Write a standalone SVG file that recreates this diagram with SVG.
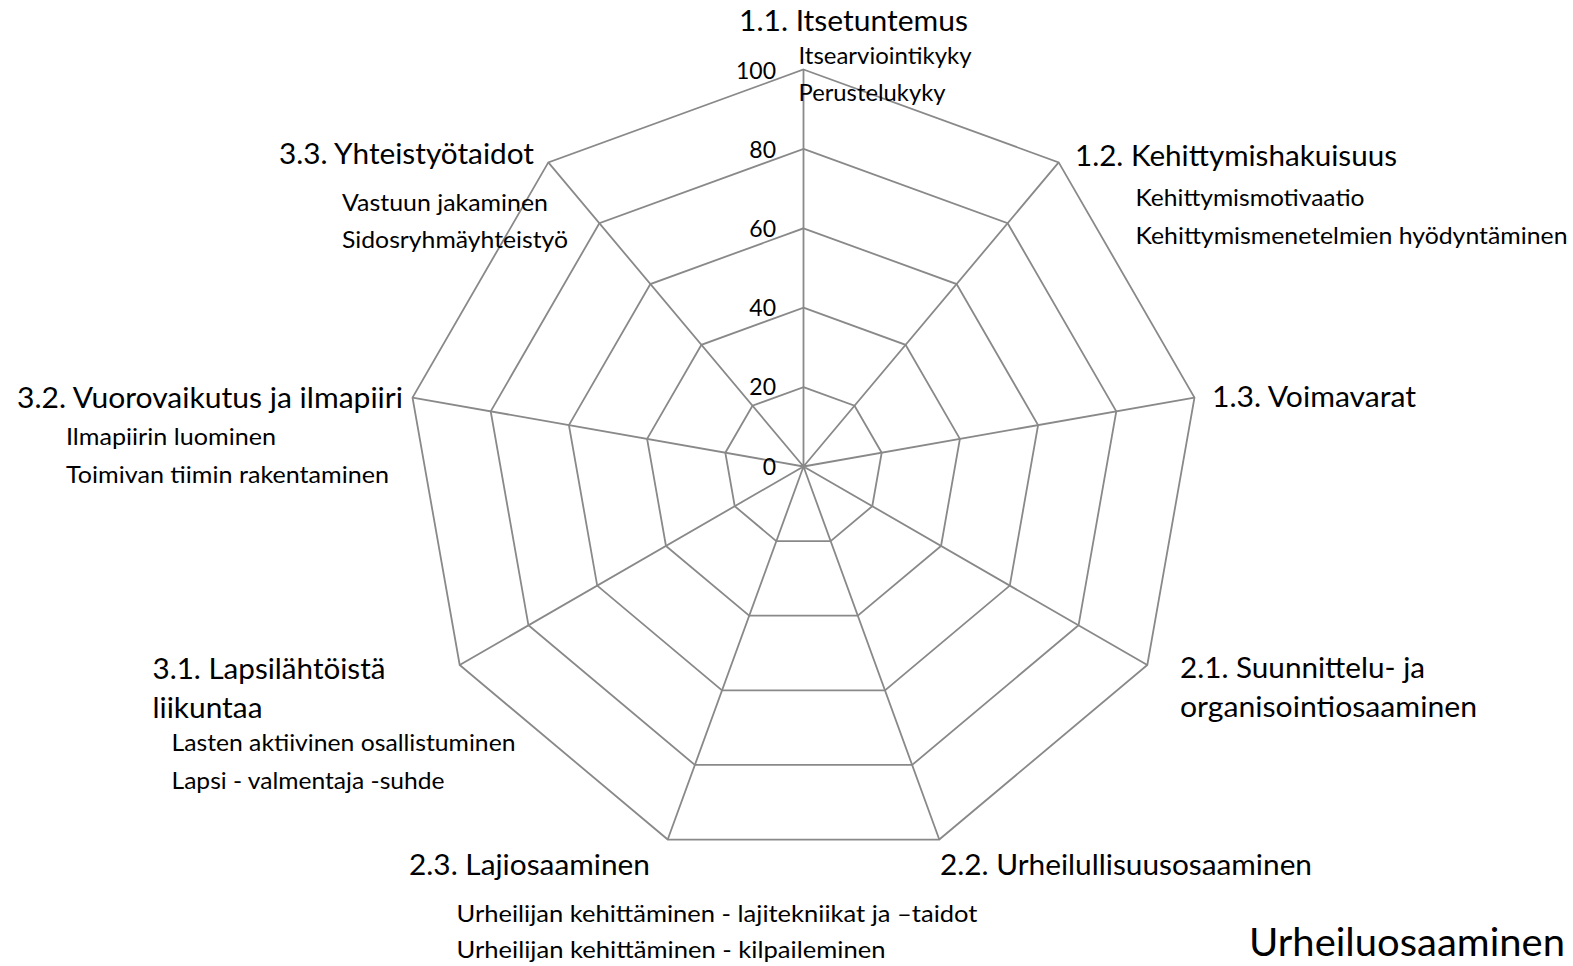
<svg xmlns="http://www.w3.org/2000/svg" width="1573" height="966" viewBox="0 0 1573 966">
<style>
.g{fill:none;stroke:#898989;stroke-width:1.8;stroke-linejoin:miter}
.h{font-family:Lato,"Liberation Sans",sans-serif;font-size:29px;fill:#000}
.s{font-family:Lato,"Liberation Sans",sans-serif;font-size:23.5px;fill:#000}
.n{font-family:Lato,"Liberation Sans",sans-serif;font-size:23px;fill:#000;text-anchor:end}
.t{font-family:Lato,"Liberation Sans",sans-serif;font-size:38px;fill:#000}
</style>
<rect width="1573" height="966" fill="#fff"/>
<g id="grid" transform="translate(803.5,466.5)">
<polygon class="g" points="0,-397 255.19,-304.12 390.97,-68.94 343.81,198.5 135.78,373.06 -135.78,373.06 -343.81,198.5 -390.97,-68.94 -255.19,-304.12"/>
<polygon class="g" points="0,-317.6 204.15,-243.3 312.78,-55.15 275.05,158.8 108.63,298.45 -108.63,298.45 -275.05,158.8 -312.78,-55.15 -204.15,-243.3"/>
<polygon class="g" points="0,-238.2 153.11,-182.47 234.58,-41.36 206.29,119.1 81.47,223.84 -81.47,223.84 -206.29,119.1 -234.58,-41.36 -153.11,-182.47"/>
<polygon class="g" points="0,-158.8 102.08,-121.65 156.39,-27.58 137.53,79.4 54.31,149.22 -54.31,149.22 -137.53,79.4 -156.39,-27.58 -102.08,-121.65"/>
<polygon class="g" points="0,-79.4 51.04,-60.82 78.19,-13.79 68.76,39.7 27.16,74.61 -27.16,74.61 -68.76,39.7 -78.19,-13.79 -51.04,-60.82"/>
</g>
<g id="connectors" transform="translate(803.5,466.5)">
<path class="g" d="M0,0L0,-397M0,0L255.19,-304.12M0,0L390.97,-68.94M0,0L343.81,198.5M0,0L135.78,373.06M0,0L-135.78,373.06M0,0L-343.81,198.5M0,0L-390.97,-68.94M0,0L-255.19,-304.12"/>
</g>
<g id="scale">
<text class="n" x="776" y="78.5">100</text>
<text class="n" x="776" y="157.5">80</text>
<text class="n" x="776" y="237">60</text>
<text class="n" x="776" y="316">40</text>
<text class="n" x="776" y="395">20</text>
<text class="n" x="776" y="474.5">0</text>
</g>
<g id="node-1-1">
<text class="h" x="739" y="31" textLength="229" lengthAdjust="spacingAndGlyphs">1.1. Itsetuntemus</text>
<text class="s" x="798.5" y="63.5" textLength="173" lengthAdjust="spacingAndGlyphs">Itsearviointikyky</text>
<text class="s" x="798.5" y="100.5" textLength="147" lengthAdjust="spacingAndGlyphs">Perustelukyky</text>
</g>
<g id="node-1-2">
<text class="h" x="1075" y="165.5" textLength="322" lengthAdjust="spacingAndGlyphs">1.2. Kehittymishakuisuus</text>
<text class="s" x="1135.5" y="205.5" textLength="229" lengthAdjust="spacingAndGlyphs">Kehittymismotivaatio</text>
<text class="s" x="1135.5" y="244" textLength="432" lengthAdjust="spacingAndGlyphs">Kehittymismenetelmien hyödyntäminen</text>
</g>
<g id="node-1-3">
<text class="h" x="1212" y="407" textLength="204" lengthAdjust="spacingAndGlyphs">1.3. Voimavarat</text>
</g>
<g id="node-2-1">
<text class="h" x="1180" y="678" textLength="245" lengthAdjust="spacingAndGlyphs">2.1. Suunnittelu- ja</text>
<text class="h" x="1180" y="717" textLength="297" lengthAdjust="spacingAndGlyphs">organisointiosaaminen</text>
</g>
<g id="node-2-2">
<text class="h" x="940" y="875" textLength="372" lengthAdjust="spacingAndGlyphs">2.2. Urheilullisuusosaaminen</text>
</g>
<g id="node-2-3">
<text class="h" x="409" y="875" textLength="241" lengthAdjust="spacingAndGlyphs">2.3. Lajiosaaminen</text>
<text class="s" x="456.5" y="922" textLength="521" lengthAdjust="spacingAndGlyphs">Urheilijan kehittäminen - lajitekniikat ja –taidot</text>
<text class="s" x="456.5" y="958" textLength="429" lengthAdjust="spacingAndGlyphs">Urheilijan kehittäminen - kilpaileminen</text>
</g>
<g id="node-3-1">
<text class="h" x="152.5" y="679" textLength="233" lengthAdjust="spacingAndGlyphs">3.1. Lapsilähtöistä</text>
<text class="h" x="152.5" y="718" textLength="110" lengthAdjust="spacingAndGlyphs">liikuntaa</text>
<text class="s" x="171.5" y="751" textLength="344" lengthAdjust="spacingAndGlyphs">Lasten aktiivinen osallistuminen</text>
<text class="s" x="171.5" y="788.5" textLength="273" lengthAdjust="spacingAndGlyphs">Lapsi - valmentaja -suhde</text>
</g>
<g id="node-3-2">
<text class="h" x="17" y="408" textLength="386" lengthAdjust="spacingAndGlyphs">3.2. Vuorovaikutus ja ilmapiiri</text>
<text class="s" x="66" y="445" textLength="210" lengthAdjust="spacingAndGlyphs">Ilmapiirin luominen</text>
<text class="s" x="66" y="482.5" textLength="323" lengthAdjust="spacingAndGlyphs">Toimivan tiimin rakentaminen</text>
</g>
<g id="node-3-3">
<text class="h" x="279" y="163.5" textLength="255" lengthAdjust="spacingAndGlyphs">3.3. Yhteistyötaidot</text>
<text class="s" x="342" y="210.5" textLength="206" lengthAdjust="spacingAndGlyphs">Vastuun jakaminen</text>
<text class="s" x="342" y="248" textLength="226" lengthAdjust="spacingAndGlyphs">Sidosryhmäyhteistyö</text>
</g>
<g id="title">
<text class="t" x="1249" y="956" textLength="316" lengthAdjust="spacingAndGlyphs">Urheiluosaaminen</text>
</g>
</svg>
